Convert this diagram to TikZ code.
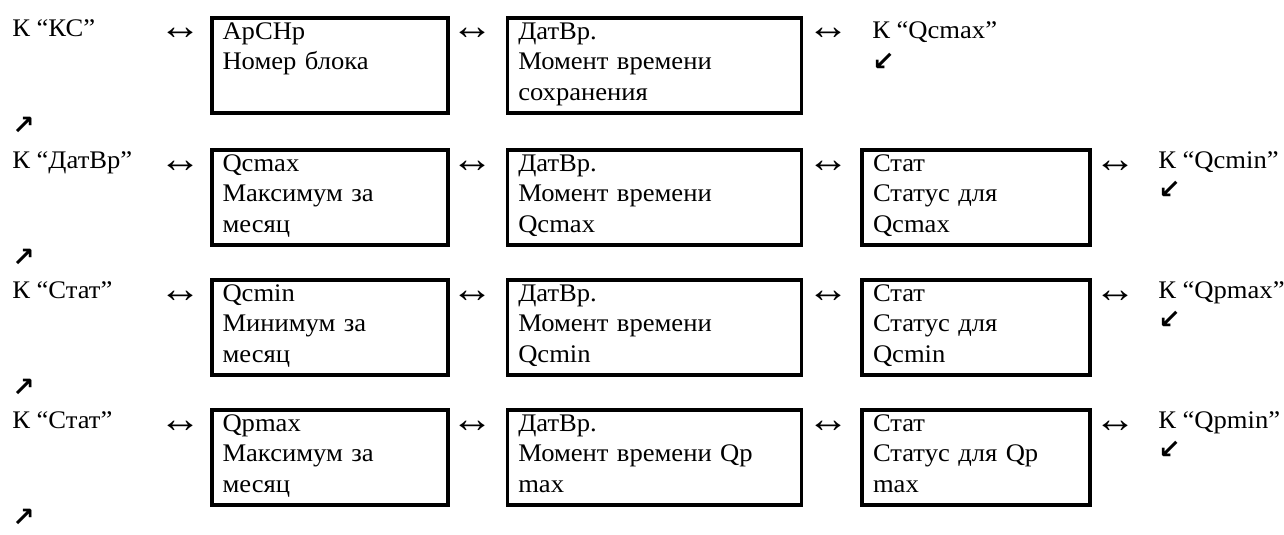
\documentclass[tikz,border=0pt]{standalone}
\usepackage{fontspec}
\setmainfont{Liberation Serif}[FakeStretch=1.05]
\newfontfamily\arrowfont{DejaVu Sans}
\usepackage{tikz}
\usetikzlibrary{positioning}
\setlength{\parindent}{0pt}
\newcommand{\cellfont}{\fontsize{19}{23}\selectfont}
\tikzstyle{cell} = [draw, line width=2.8pt, anchor=north west, align=left,
inner xsep=8pt, inner ysep=0pt, font=\cellfont,
execute at begin node={\rule{0pt}{16pt}},
execute at end node={\rule[-9.25pt]{0pt}{9.25pt}}]
\tikzstyle{lbl} = [anchor=base west, inner sep=0pt, font=\cellfont]
\tikzstyle{lr} = [anchor=base, inner sep=0pt, yshift=-2.5pt, font=\fontsize{30}{30}\selectfont]
\tikzstyle{diag} = [inner sep=0pt, font=\arrowfont\bfseries\fontsize{20}{20}\selectfont]

\begin{document}
\begin{tikzpicture}
		\useasboundingbox (0,0) rectangle (963pt,-401.25pt);

		% row 1
		\node [lbl] (l1) at (9pt,-27.5pt) {К “КС”};
		\node [lr] (a11) at (135pt,-27.5pt) {↔};
		\node [cell, text width=161pt] (b11) at (157.5pt,-12pt) {АрСНр\\Номер блока\\\mbox{}};
		\node [lr] (a12) at (354pt,-27.5pt) {↔};
		\node [cell, text width=204.5pt, right=42pt of b11] (b12) {ДатВр.\\Момент времени\\сохранения};
		\node [lr] (a13) at (621pt,-27.5pt) {↔};
		\node [lbl] (r1) at (654pt,-29pt) {К “Qcmax”};
		\node [diag, anchor=base west] (r1d) at ([yshift=-24pt]r1.base west) {↙};
		\node [diag, anchor=west] (u1) at (9pt,-94.5pt) {↗};

		% row 2
		\node [lbl] (l2) at (9pt,-126.5pt) {К “ДатВр”};
		\node [lr] (a21) at (135pt,-126.5pt) {↔};
		\node [cell, text width=161pt] (b21) at (157.5pt,-111pt) {Qcmax\\Максимум за\\месяц};
		\node [lr] (a22) at (354pt,-126.5pt) {↔};
		\node [cell, text width=204.5pt, right=42pt of b21] (b22) {ДатВр.\\Момент времени\\Qcmax};
		\node [lr] (a23) at (621pt,-126.5pt) {↔};
		\node [cell, text width=155pt, right=42.75pt of b22] (b23) {Стат\\Статус для\\Qcmax};
		\node [lr] (a24) at (836.25pt,-126.5pt) {↔};
		\node [lbl] (r2) at (868.5pt,-126.5pt) {К “Qcmin”};
		\node [diag, anchor=base west] (r2d) at ([yshift=-22pt]r2.base west) {↙};
		\node [diag, anchor=west] (u2) at (9pt,-193.5pt) {↗};

		% row 3
		\node [lbl] (l3) at (9pt,-224pt) {К “Стат”};
		\node [lr] (a31) at (135pt,-224pt) {↔};
		\node [cell, text width=161pt] (b31) at (157.5pt,-208.5pt) {Qcmin\\Минимум за\\месяц};
		\node [lr] (a32) at (354pt,-224pt) {↔};
		\node [cell, text width=204.5pt, right=42pt of b31] (b32) {ДатВр.\\Момент времени\\Qcmin};
		\node [lr] (a33) at (621pt,-224pt) {↔};
		\node [cell, text width=155pt, right=42.75pt of b32] (b33) {Стат\\Статус для\\Qcmin};
		\node [lr] (a34) at (836.25pt,-224pt) {↔};
		\node [lbl] (r3) at (868.5pt,-224pt) {К “Qpmax”};
		\node [diag, anchor=base west] (r3d) at ([yshift=-22pt]r3.base west) {↙};
		\node [diag, anchor=west] (u3) at (9pt,-291pt) {↗};

		% row 4
		\node [lbl] (l4) at (9pt,-321.5pt) {К “Стат”};
		\node [lr] (a41) at (135pt,-321.5pt) {↔};
		\node [cell, text width=161pt] (b41) at (157.5pt,-306pt) {Qpmax\\Максимум за\\месяц};
		\node [lr] (a42) at (354pt,-321.5pt) {↔};
		\node [cell, text width=204.5pt, right=42pt of b41] (b42) {ДатВр.\\Момент времени Qp\\max};
		\node [lr] (a43) at (621pt,-321.5pt) {↔};
		\node [cell, text width=155pt, right=42.75pt of b42] (b43) {Стат\\Статус для Qp\\max};
		\node [lr] (a44) at (836.25pt,-321.5pt) {↔};
		\node [lbl] (r4) at (868.5pt,-321.5pt) {К “Qpmin”};
		\node [diag, anchor=base west] (r4d) at ([yshift=-22pt]r4.base west) {↙};
		\node [diag, anchor=west] (u4) at (9pt,-388.5pt) {↗};
\end{tikzpicture}
\end{document}
